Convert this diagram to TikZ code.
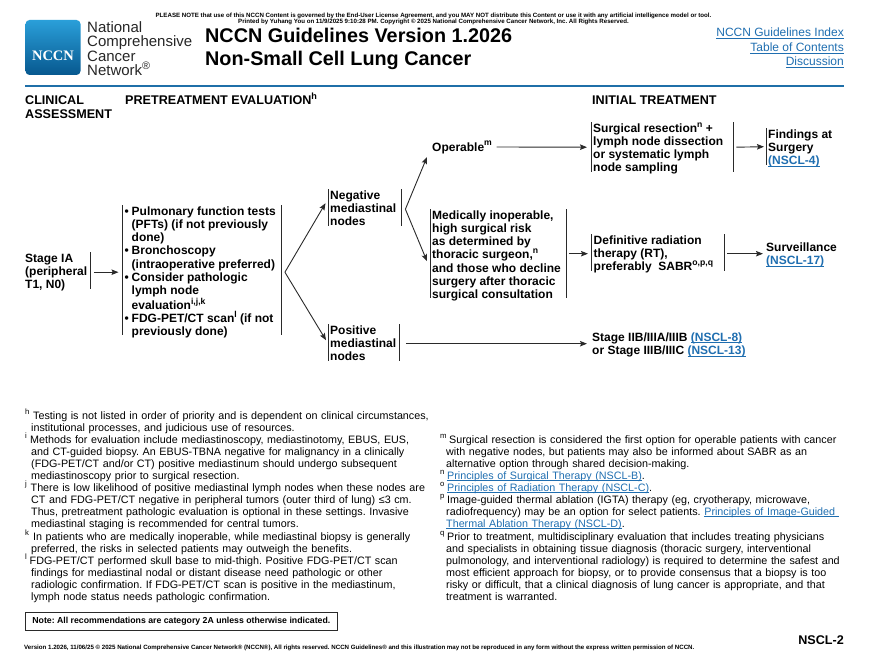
\documentclass[tikz,border=0pt]{standalone}
\usepackage{fontspec}
\usepackage{graphicx}
\setmainfont{Liberation Sans}
\newfontfamily\serifface{Liberation Serif}
\usetikzlibrary{arrows.meta}
\definecolor{linkblue}{HTML}{1F6EB0}
\definecolor{rulelblue}{HTML}{1F6FA8}
\definecolor{barcol}{HTML}{2A2A2A}
\definecolor{logotop}{HTML}{2A9FD9}
\definecolor{logobot}{HTML}{07588F}
\lineskiplimit=-20pt
\AtBeginDocument{\frenchspacing}
\newcommand\su[1]{\raisebox{.42em}{\scalebox{.72}{#1}}}
\newcommand\lk[1]{\leavevmode{\color{linkblue}\setbox0=\hbox{#1}\rlap{\rule[-1.9pt]{\wd0}{.7pt}}\box0}}
\newcommand\st{\rule{0pt}{11pt}}
\newcommand\nl{\\\hspace*{6pt}}
\newcommand\fm[2]{\st\makebox[#1][l]{\su{#2}}}
\newcommand\bu{\makebox[7pt][l]{\textbullet}}
\newcommand\ind{\hspace*{7pt}}
% text block whose first baseline lies #1 above the node's centre, #2 wide
\newcommand\bt[3]{\raisebox{#1}[0pt][0pt]{\parbox[t]{#2}{\raggedright #3}}}
\tikzset{
  boxnode/.style={anchor=north west,inner xsep=2pt,inner ysep=0pt,font=\fontsize{12}{13.2}\selectfont\bfseries},
  plain/.style={anchor=base west,inner sep=0pt,font=\fontsize{12}{13}\selectfont\bfseries},
  head/.style={anchor=base west,inner sep=0pt,font=\fontsize{12.6}{14}\selectfont\bfseries},
  foot/.style={anchor=north west,align=left,inner sep=0pt,text width=440pt,font=\fontsize{10.75}{12}\selectfont},
  linknode/.style={anchor=base east,inner sep=0pt,font=\fontsize{12}{14}\selectfont},
  tiny/.style={inner sep=0pt,font=\fontsize{6.15}{6.5}\selectfont\bfseries},
  bar/.style={draw=barcol,line width=.9pt},
  flow/.style={draw=barcol,line width=.9pt,-{Stealth[length=7pt,width=5.5pt,inset=1.2pt]}}
}
\begin{document}
\begin{tikzpicture}[x=1pt,y=-1pt]
\useasboundingbox (0,0) rectangle (870,669);
% header
\node[tiny,anchor=base] (notea) at (433.5,17.5) {PLEASE NOTE that use of this NCCN Content is governed by the End-User License Agreement, and you MAY NOT distribute this Content or use it with any artificial intelligence model or tool.};
\node[tiny,anchor=base] (noteb) at (433.5,23.5) {Printed by Yuhang You on 11/9/2025 9:10:28 PM. Copyright © 2025 National Comprehensive Cancer Network, Inc. All Rights Reserved.};
\shade[top color=logotop,bottom color=logobot,rounded corners=4pt,draw=none] (25.5,20) rectangle (80.5,75);
\node[anchor=base,inner sep=0pt,text=white,font=\fontsize{14.5}{15}\selectfont\serifface\bfseries] (logo) at (53,61) {NCCN};
\node[anchor=north west,align=left,inner sep=0pt,text=black!85,font=\fontsize{15}{14.4}\selectfont] (org) at (87,21.5) {National\\Comprehensive\\Cancer\\Network\su{®}};
\node[anchor=base west,inner sep=0pt,font=\fontsize{19.8}{23}\selectfont\bfseries] (titlea) at (205,43) {NCCN Guidelines Version 1.2026};
\node[anchor=base west,inner sep=0pt,font=\fontsize{19.8}{23}\selectfont\bfseries] (titleb) at (205,66) {Non-Small Cell Lung Cancer};
\node[linknode] (lka) at (844,37) {\lk{NCCN Guidelines Index}};
\node[linknode] (lkb) at (844,52) {\lk{Table of Contents}};
\node[linknode] (lkc) at (844,66) {\lk{Discussion}};
\draw[rulelblue,line width=2pt] (25,85.5) -- (844,85.5);
\node[head] (hca) at (25,104.5) {CLINICAL};
\node[head] (hcb) at (25,118.5) {ASSESSMENT};
\node[head] (hp) at (125,104.5) {PRETREATMENT EVALUATION\su{h}};
\node[head] (hi) at (592,104.5) {INITIAL TREATMENT};
% flow nodes
\node[boxnode,minimum height=37pt] (stage) at (23,252) {\bt{8.5pt}{63pt}{Stage IA\\(peripheral\\T1, N0)}};
\node[boxnode,minimum height=130pt] (pre) at (122.5,205) {\bt{55pt}{154.5pt}{\bu Pulmonary function tests\\\ind(PFTs) (if not previously\\\ind done)\\\bu Bronchoscopy\\\ind(intraoperative preferred)\\\bu Consider pathologic\\\ind lymph node\\\ind evaluation\su{i,j,k}\\\bu FDG-PET/CT scan\su{l} (if not\\\ind previously done)}};
\node[boxnode,minimum height=37pt] (neg) at (328,189) {\bt{8.5pt}{69pt}{Negative\\mediastinal\\nodes}};
\node[boxnode,minimum height=37pt] (pos) at (328,324) {\bt{8.5pt}{67.5pt}{Positive\\mediastinal\\nodes}};
\node[plain] (oper) at (432,151) {Operable\su{m}};
\node[boxnode,minimum height=50pt] (surg) at (591,122) {\bt{15pt}{138.5pt}{Surgical resection\su{n} +\\lymph node dissection\\or systematic lymph\\node sampling}};
\node[boxnode,minimum height=37pt] (find) at (766,128) {\bt{8.5pt}{80pt}{Findings at\\Surgery\\\lk{(NSCL-4)}}};
\node[boxnode,minimum height=89pt] (med) at (430,209) {\bt{34.5pt}{132pt}{Medically inoperable,\\high surgical risk\\as determined by\\thoracic surgeon,\su{n}\\and those who decline\\surgery after thoracic\\surgical consultation}};
\node[boxnode,minimum height=37pt] (def) at (591.5,234) {\bt{8.5pt}{128.5pt}{Definitive radiation\\therapy (RT),\\preferably\ \ SABR\su{o,p,q}}};
\node[boxnode,minimum height=26pt] (surv) at (764,240.5) {\bt{2.5pt}{80pt}{Surveillance\\\lk{(NSCL-17)}}};
\node[boxnode,minimum height=26pt] (adv) at (590,330.5) {\bt{2.5pt}{180pt}{Stage IIB/IIIA/IIIB \lk{(NSCL-8)}\\or Stage IIIB/IIIC \lk{(NSCL-13)}}};
% bars
\draw[bar] (stage.north east) -- (stage.south east);
\foreach \n in {pre,neg,pos,surg,med,def}{
  \draw[bar] (\n.north west) -- (\n.south west);
  \draw[bar] (\n.north east) -- (\n.south east);
}
\draw[bar] (find.north west) -- (find.south west);
% connectors
\draw[flow] ([shift={(3.5pt,-1.5pt)}]stage.east) -- ([shift={(-4pt,-1.5pt)}]pre.west |- stage.east);
\draw[flow] ([shift={(3.5pt,-2pt)}]pre.east) -- ([shift={(-2.5pt,4.5pt)}]neg.west);
\draw[flow] ([shift={(3.5pt,-2pt)}]pre.east) -- ([shift={(-2pt,2.5pt)}]pos.west);
\draw[flow] ([shift={(4pt,-1.5pt)}]neg.east) -- ([shift={(-5pt,-6pt)}]oper.base west);
\draw[flow] ([shift={(4pt,-1.5pt)}]neg.east) -- ([shift={(-3pt,-7.5pt)}]med.west);
\draw[flow] ([xshift=4.5pt,yshift=4pt]oper.base east) -- ([xshift=-4pt]surg.west);
\draw[flow] ([xshift=2.5pt]surg.east) -- ([xshift=-2pt]find.west);
\draw[flow] ([xshift=2.5pt,yshift=-1pt]med.east |- def.west) -- ([xshift=-3.5pt,yshift=-1pt]def.west);
\draw[flow] ([xshift=3pt,yshift=-1pt]def.east) -- ([xshift=-1pt]surv.west);
\draw[flow] ([xshift=6pt,yshift=-1pt]pos.east) -- ([xshift=-3pt]adv.west);
% footnotes left
\node[foot] (fh) at (25,408) {\fm{8pt}{h}Testing is not listed in order of priority and is dependent on clinical circumstances,\nl institutional processes, and judicious use of resources.};
\node[foot] (fi) at (25,432) {\fm{5pt}{i}Methods for evaluation include mediastinoscopy, mediastinotomy, EBUS, EUS,\nl and CT-guided biopsy. An EBUS-TBNA negative for malignancy in a clinically\nl (FDG-PET/CT and/or CT) positive mediastinum should undergo subsequent\nl mediastinoscopy prior to surgical resection.};
\node[foot] (fj) at (25,480) {\fm{5.5pt}{j}There is low likelihood of positive mediastinal lymph nodes when these nodes are\nl CT and FDG-PET/CT negative in peripheral tumors (outer third of lung) ≤3 cm.\nl Thus, pretreatment pathologic evaluation is optional in these settings. Invasive\nl mediastinal staging is recommended for central tumors.};
\node[foot] (fk) at (25,529) {\fm{8pt}{k}In patients who are medically inoperable, while mediastinal biopsy is generally\nl preferred, the risks in selected patients may outweigh the benefits.};
\node[foot] (fl) at (25,553) {\fm{4.5pt}{l}FDG-PET/CT performed skull base to mid-thigh. Positive FDG-PET/CT scan\nl findings for mediastinal nodal or distant disease need pathologic or other\nl radiologic confirmation. If FDG-PET/CT scan is positive in the mediastinum,\nl lymph node status needs pathologic confirmation.};
% footnotes right
\node[foot] (fm) at (440,432) {\fm{9pt}{m}Surgical resection is considered the first option for operable patients with cancer\nl with negative nodes, but patients may also be informed about SABR as an\nl alternative option through shared decision-making.};
\node[foot] (fn) at (440,468) {\fm{7pt}{n}\lk{Principles of Surgical Therapy (NSCL-B)}.};
\node[foot] (fo) at (440,480) {\fm{7pt}{o}\lk{Principles of Radiation Therapy (NSCL-C)}.};
\node[foot] (fp) at (440,492) {\fm{7pt}{p}Image-guided thermal ablation (IGTA) therapy (eg, cryotherapy, microwave,\nl radiofrequency) may be an option for select patients. \lk{Principles of Image-Guided\ }\nl \lk{Thermal Ablation Therapy (NSCL-D)}.};
\node[foot] (fq) at (440,529) {\fm{7pt}{q}Prior to treatment, multidisciplinary evaluation that includes treating physicians\nl and specialists in obtaining tissue diagnosis (thoracic surgery, interventional\nl pulmonology, and interventional radiology) is required to determine the safest and\nl most efficient approach for biopsy, or to provide consensus that a biopsy is too\nl risky or difficult, that a clinical diagnosis of lung cancer is appropriate, and that\nl treatment is warranted.};
% note and footer
\node[anchor=north west,draw=barcol,line width=1.2pt,minimum width=312.5pt,minimum height=18pt,inner xsep=6pt,inner ysep=0pt,font=\fontsize{8.73}{10}\selectfont\bfseries] (note) at (24.5,612) {Note: All recommendations are category 2A unless otherwise indicated.};
\node[tiny,anchor=base west] (footer) at (24,649) {Version 1.2026, 11/06/25 © 2025 National Comprehensive Cancer Network® (NCCN®), All rights reserved. NCCN Guidelines® and this illustration may not be reproduced in any form without the express written permission of NCCN.};
\node[anchor=base east,inner sep=0pt,font=\fontsize{12.6}{14}\selectfont\bfseries] (pg) at (844,644.5) {NSCL-2};
\end{tikzpicture}
\end{document}
